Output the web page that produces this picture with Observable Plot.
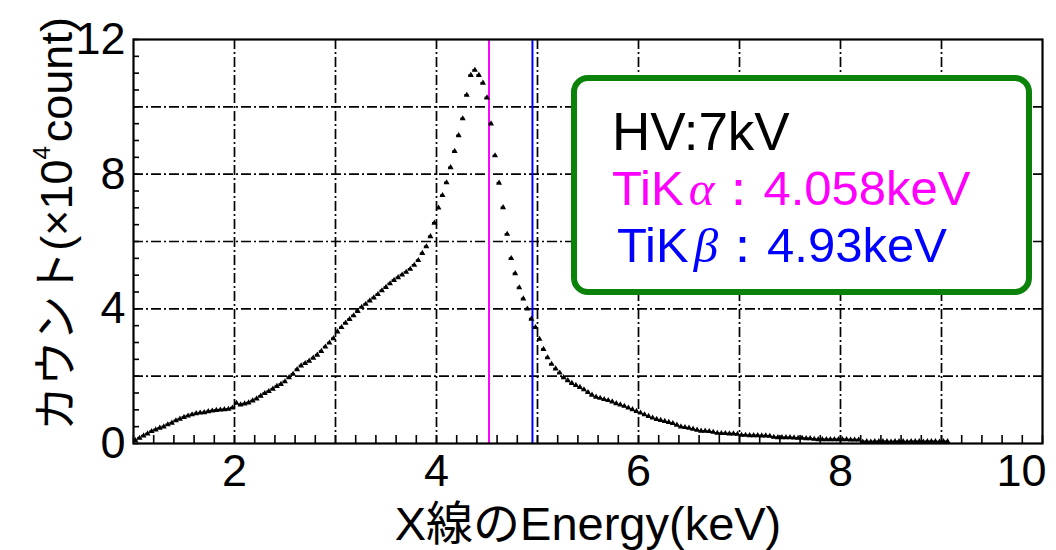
<!DOCTYPE html>
<html><head><meta charset="utf-8">
<script src="https://cdn.jsdelivr.net/npm/d3@7"></script>
<script src="https://cdn.jsdelivr.net/npm/@observablehq/plot@0.6"></script>
<style>
html,body{margin:0;padding:0;background:#fff;}
</style>
</head><body>
<div id="chart"></div>
<script>
// ---- data (counts in units of 10^4) ----
const binStart = 1.0;      // keV
const binWidth = 0.04;     // keV
const counts = [
  // 1.02 – 1.98
  0.09,0.16,0.23,0.29,0.36,0.41,0.46,0.50,0.56,0.61,
  0.68,0.73,0.78,0.82,0.86,0.89,0.91,0.92,0.95,0.97,
  0.99,1.00,1.01,1.02,1.06,
  // 2.02 – 2.98
  1.20,1.15,1.18,1.21,1.27,1.33,1.41,1.49,1.55,1.62,
  1.70,1.76,1.84,1.96,2.06,2.20,2.31,2.38,2.45,2.54,
  2.63,2.74,2.87,2.99,3.12,
  // 3.02 – 3.90
  3.32,3.45,3.58,3.69,3.80,3.93,4.05,4.14,4.24,4.33,
  4.43,4.54,4.64,4.75,4.85,4.93,5.01,5.09,5.18,5.30,
  5.44,5.65,5.85,
  // 3.94 – 5.06 (peak)
  6.15,6.55,7.00,7.37,7.75,8.20,8.68,9.15,9.65,10.35,
  10.94,11.09,10.94,10.71,10.27,9.50,8.55,7.74,7.01,6.22,
  5.50,5.05,4.63,4.30,4.00,3.70,3.45,3.10,2.80,
  // 5.10 – 8.38 (tail)
  2.55,2.36,2.22,2.10,1.96,1.87,1.79,1.73,1.67,1.60,
  1.52,1.44,1.38,1.35,1.31,1.28,1.24,1.19,1.15,1.11,
  1.06,1.01,0.96,0.91,0.86,0.81,0.76,0.72,0.69,0.66,
  0.63,0.60,0.55,0.50,0.48,0.46,0.43,0.40,0.37,0.37,
  0.36,0.34,0.31,0.30,0.30,0.29,0.29,0.28,0.25,0.25,
  0.24,0.24,0.24,0.23,0.23,0.22,0.19,0.18,0.18,0.18,
  0.18,0.17,0.16,0.16,0.15,0.15,0.13,0.12,0.12,0.12,
  0.12,0.12,0.12,0.12,0.12,0.11,0.11,0.11,0.05,0.06,
  0.05,0.06,0.06,
  // 8.42 – 9.06
  0.06,0.06,0.05,0.06,0.06,0.06,0.05,0.06,0.06,0.06,
  0.05,0.06,0.06,0.06,0.05,0.06,0.06
];
const lineKalpha = 4.52;   // drawn position of TiKα marker line (keV)
const lineKbeta  = 4.95;   // drawn position of TiKβ marker line (keV)
const xDomain = [1, 10];
const yDomain = [0, 12];
const xTickLabels = [2, 4, 6, 8];
const xTickLabelLast = [10];
const yTickLabels = [0, 4, 8, 12];
const xGrid = [2, 3, 4, 5, 6, 7, 8, 9];
const yGrid = [2, 4, 6, 8, 10];
const xTitle = "X線のEnergy(keV)";
const yTitleMain = "カウント(×10";
const yTitleSup = "4";
const yTitleEnd = "count)";
const legendLines = [
  {text: "HV:7kV", color: "#000000"},
  {text: "TiK", greek: "α", rest: "：4.058keV", color: "#ff00ff"},
  {text: "TiK", greek: "β", rest: "：4.93keV", color: "#0000ff"}
];

// ---- derived table ----
const bins = counts.map((c, i) => {
  const lo = binStart + i * binWidth;
  return {x1: lo, x2: lo + binWidth, e: lo + binWidth / 2, c};
});
const xMinor = d3.range(1, 10.0001, 0.2);
const yMinor = d3.range(0, 12.0001, 0.5);

const FONT = "'Liberation Sans','Noto Sans CJK JP',sans-serif";
const W = 1056, H = 550;
const mL = 133, mR = 14, mT = 39, mB = 107;

const grid = {stroke: "#000", strokeWidth: 1.7, strokeDasharray: "10,3,2,3", strokeOpacity: 1};
const tickText = {fontSize: 45, fill: "#000", lineAnchor: "top", dy: 11, clip: false};

const svg = Plot.plot({
  width: W, height: H,
  marginLeft: mL, marginRight: mR, marginTop: mT, marginBottom: mB,
  style: {fontFamily: FONT, background: "#fff", color: "#000"},
  x: {domain: xDomain, label: null},
  y: {domain: yDomain, label: null},
  marks: [
    Plot.ruleX(xGrid, grid),
    Plot.ruleY(yGrid, grid),
    Plot.ruleX([lineKalpha], {stroke: "#ff00ff", strokeWidth: 2}),
    Plot.ruleX([lineKbeta], {stroke: "#0000ff", strokeWidth: 2}),
    Plot.ruleY(bins, {y: "c", x1: "x1", x2: "x2", stroke: "#000", strokeWidth: 2.1}),
    Plot.dot(bins, {x: "e", y: "c", symbol: "triangle", r: 2.2, fill: "#000", stroke: "none"}),
    Plot.axisX(xMinor, {tickSize: -8, tickFormat: () => "", strokeWidth: 1.6, label: null}),
    Plot.axisY(yMinor, {tickSize: -6, tickFormat: () => "", strokeWidth: 1.6, label: null}),
    Plot.text(xTickLabels, {x: d => d, y: 0, text: d => String(d), textAnchor: "middle", ...tickText}),
    Plot.text(xTickLabelLast, {x: d => d, y: 0, text: d => String(d), textAnchor: "end", dx: 4, ...tickText}),
    Plot.axisY(yTickLabels, {tickSize: 0, tickPadding: 8, fontSize: 45, label: null}),
    Plot.frame({stroke: "#000", strokeWidth: 2.2})
  ]
});

const s = d3.select(svg);

// axis titles
s.append("text")
  .attr("x", 588).attr("y", 540)
  .attr("text-anchor", "middle")
  .attr("font-size", 47).attr("font-family", FONT).attr("fill", "#000")
  .text(xTitle);

const yt = s.append("text")
  .attr("transform", "translate(72,224) rotate(-90)")
  .attr("text-anchor", "middle")
  .attr("font-size", 45).attr("font-family", FONT).attr("fill", "#000");
yt.append("tspan").text(yTitleMain);
yt.append("tspan").attr("font-size", 24).attr("dy", -22).text(yTitleSup);
yt.append("tspan").attr("dy", 22).attr("dx", 4).text(yTitleEnd);

// legend box
const g = s.append("g").attr("text-anchor", "start");
g.append("rect")
  .attr("x", 574).attr("y", 78).attr("width", 455).attr("height", 214)
  .attr("rx", 14).attr("ry", 14)
  .attr("fill", "#fff").attr("stroke", "#0b830b").attr("stroke-width", 6);
const LF = "'Liberation Sans','Arial',sans-serif";
const rows = [
  {y: 150, size: 53, x: 612},
  {y: 205, size: 49, x: 612},
  {y: 262, size: 49, x: 617}
];
legendLines.forEach((d, i) => {
  const r = rows[i];
  const t = g.append("text").attr("x", r.x).attr("y", r.y).attr("text-anchor", "start")
    .attr("font-size", r.size).attr("font-family", LF).attr("fill", d.color);
  t.append("tspan").text(d.text);
  if (d.greek) {
    t.append("tspan").attr("font-style", "italic").attr("font-family", "'Liberation Serif',serif").attr("dx", 5).text(d.greek);
    t.append("tspan").text(d.rest);
  }
});

document.getElementById("chart").appendChild(svg);
</script>
</body></html>
